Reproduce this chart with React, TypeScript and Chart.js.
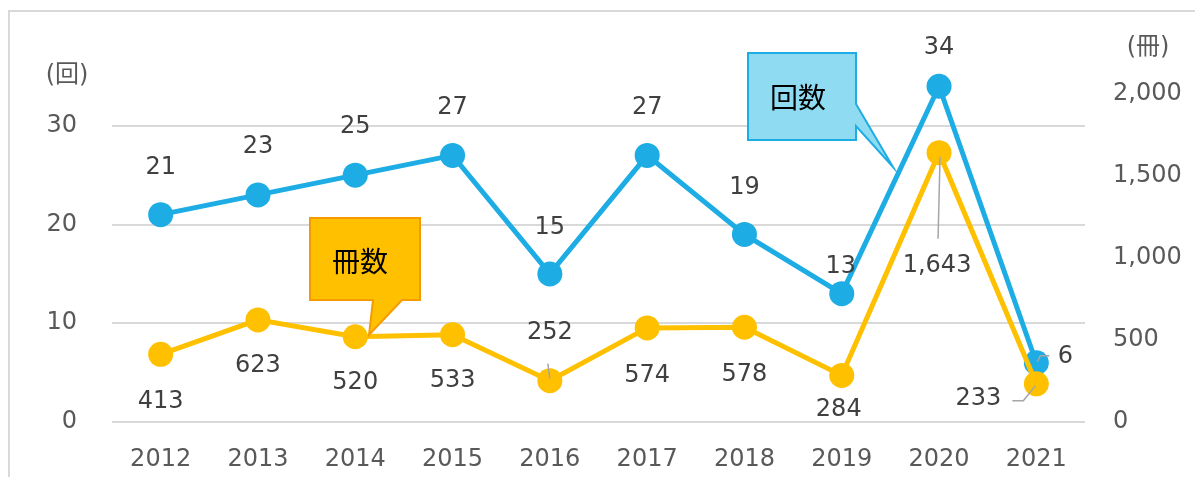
import React, { useEffect, useRef } from "react";
import { Chart, registerables } from "chart.js";

Chart.register(...registerables);

// ---- data ----
const years = ["2012", "2013", "2014", "2015", "2016", "2017", "2018", "2019", "2020", "2021"];
const kaisu = [21, 23, 25, 27, 15, 27, 19, 13, 34, 6]; // 回数 (left axis)
const satsusu = [413, 623, 520, 533, 252, 574, 578, 284, 1643, 233]; // 冊数 (right axis)
const leftTicks = [0, 10, 20, 30];
const rightTicks = [0, 500, 1000, 1500, 2000];
const leftTitle = "(回)";
const rightTitle = "(冊)";
const calloutSatsu = "冊数";
const calloutKai = "回数";

// ---- styles ----
const BLUE = "#1DADE4";
const ORANGE = "#FFC000";
const LABEL_COLOR = "#404040";
const AXIS_COLOR = "#595959";
const GRID = "#d9d9d9";
const FONT = "'DejaVu Sans', 'Noto Sans CJK JP', sans-serif";
const CJK = "'Noto Sans CJK JP', sans-serif";
const FS = 24;

// label offsets relative to points [dx, dy], optional leader polyline (relative)
const blueLabelOffsets: number[][] = [
  [0, -47], [0, -48], [0, -48], [0, -48], [0, -46], [0, -48], [0, -47], [-1, -27], [0, -38], [29, -6],
];
const orangeLabelOffsets: number[][] = [
  [0, 47], [0, 46], [0, 46], [0, 46], [0, -48], [0, 48], [0, 48], [-3, 34], [-2, 113], [-58, 15],
];
const blueLeaders: (number[][] | null)[] = [null, null, null, null, null, null, null, null, null, [[1, -1], [4, -7], [13, -7]]];
const orangeLeaders: (number[][] | null)[] = [
  null, null, null, null, [[-2, -17], [0, -2]], null, null, null, [[-1, 86], [1, 4]], [[-24, 17], [-13, 17], [-1, 2]],
];

const fmt = (v: number) => v.toLocaleString("en-US");

const decorPlugin = {
  id: "decor",
  beforeDraw(chart: any) {
    const { ctx, width, height } = chart;
    ctx.save();
    ctx.fillStyle = "#d9d9d9";
    ctx.fillRect(0, 2, width, 2);
    ctx.fillRect(0, 2, 2, height);
    ctx.restore();
  },
  afterDatasetsDraw(chart: any) {
    const { ctx } = chart;
    ctx.save();
    const sets = [
      { idx: 0, values: kaisu, offs: blueLabelOffsets, leaders: blueLeaders },
      { idx: 1, values: satsusu, offs: orangeLabelOffsets, leaders: orangeLeaders },
    ];
    for (const s of sets) {
      const meta = chart.getDatasetMeta(s.idx);
      meta.data.forEach((pt: any, i: number) => {
        const ld = s.leaders[i];
        if (ld) {
          ctx.strokeStyle = "#a6a6a6";
          ctx.lineWidth = 1.5;
          ctx.beginPath();
          ld.forEach((p, k) => {
            if (k === 0) ctx.moveTo(pt.x + p[0], pt.y + p[1]);
            else ctx.lineTo(pt.x + p[0], pt.y + p[1]);
          });
          ctx.stroke();
        }
      });
    }
    for (const s of sets) {
      const meta = chart.getDatasetMeta(s.idx);
      meta.data.forEach((pt: any, i: number) => {
        const o = s.offs[i];
        ctx.font = `${FS}px ${FONT}`;
        ctx.fillStyle = LABEL_COLOR;
        ctx.textAlign = "center";
        ctx.textBaseline = "middle";
        ctx.fillText(fmt(s.values[i]), pt.x + o[0], pt.y + o[1]);
      });
    }
    ctx.restore();
  },
  afterDraw(chart: any) {
    const { ctx } = chart;
    ctx.save();
    // axis titles
    ctx.font = `24px ${FONT}`;
    ctx.fillStyle = AXIS_COLOR;
    ctx.textAlign = "center";
    ctx.textBaseline = "middle";
    ctx.fillText(leftTitle, 59, 68);
    ctx.fillText(rightTitle, 1140, 40);

    // callout 冊数 (canvas coords = page - 8)
    ctx.lineJoin = "miter";
    ctx.beginPath();
    ctx.moveTo(302, 210);
    ctx.lineTo(412, 210);
    ctx.lineTo(412, 292);
    ctx.lineTo(394, 292);
    ctx.lineTo(361, 327);
    ctx.lineTo(365, 292);
    ctx.lineTo(302, 292);
    ctx.closePath();
    ctx.fillStyle = "#FFC000";
    ctx.fill();
    ctx.strokeStyle = "#F59B00";
    ctx.lineWidth = 2;
    ctx.stroke();
    ctx.fillStyle = "#000";
    ctx.font = `28px ${CJK}`;
    ctx.fillText(calloutSatsu, 352, 253);

    // callout 回数
    ctx.beginPath();
    ctx.moveTo(740, 45);
    ctx.lineTo(848, 45);
    ctx.lineTo(848, 96);
    ctx.lineTo(885, 159);
    ctx.lineTo(848, 118);
    ctx.lineTo(848, 132);
    ctx.lineTo(740, 132);
    ctx.closePath();
    ctx.fillStyle = "#8FDBF1";
    ctx.fill();
    ctx.strokeStyle = BLUE;
    ctx.lineWidth = 2;
    ctx.stroke();
    ctx.fillStyle = "#000";
    ctx.font = `28px ${CJK}`;
    ctx.fillText(calloutKai, 790, 89);
    ctx.restore();
  },
};

const noPad = (s: any) => {
  s.paddingTop = 0;
  s.paddingBottom = 0;
};

export default function App() {
  const ref = useRef<HTMLCanvasElement | null>(null);
  useEffect(() => {
    if (!ref.current) return;
    const chart = new Chart(ref.current, {
      type: "line",
      data: {
        labels: years,
        datasets: [
          {
            label: "回数",
            data: kaisu,
            yAxisID: "y",
            borderColor: BLUE,
            backgroundColor: BLUE,
            borderWidth: 5,
            pointRadius: 12.5,
            pointBackgroundColor: BLUE,
            pointBorderWidth: 0,
            tension: 0,
            clip: false,
            order: 2,
          },
          {
            label: "冊数",
            data: satsusu,
            yAxisID: "y1",
            borderColor: ORANGE,
            backgroundColor: ORANGE,
            borderWidth: 5,
            pointRadius: 12.5,
            pointBackgroundColor: ORANGE,
            pointBorderWidth: 0,
            tension: 0,
            clip: false,
            order: 1,
          },
        ],
      },
      options: {
        animation: false,
        responsive: false,
        layout: { autoPadding: false, padding: { top: 19, bottom: 0, left: 0, right: 0 } },
        plugins: { legend: { display: false }, tooltip: { enabled: false } },
        scales: {
          x: {
            offset: true,
            grid: { display: false, drawTicks: false },
            border: { display: false },
            ticks: { color: AXIS_COLOR, font: { family: FONT, size: FS }, padding: 23, maxRotation: 0 },
            afterFit: (s: any) => { s.height = 55; s.paddingLeft = 0; s.paddingRight = 0; },
          },
          y: {
            position: "left",
            min: 0,
            max: 40,
            afterBuildTicks: (s: any) => { s.ticks = leftTicks.map((v) => ({ value: v })); },
            grid: { color: GRID, lineWidth: 2, drawTicks: false },
            border: { display: false },
            ticks: { color: AXIS_COLOR, font: { family: FONT, size: FS }, padding: 35 },
            afterFit: (s: any) => { s.width = 104; noPad(s); },
          },
          y1: {
            position: "right",
            min: 0,
            max: 2410,
            afterBuildTicks: (s: any) => { s.ticks = rightTicks.map((v) => ({ value: v })); },
            grid: { display: false, drawTicks: false },
            border: { display: false },
            ticks: {
              color: AXIS_COLOR,
              font: { family: FONT, size: FS },
              padding: 28,
              callback: (v: any) => fmt(Number(v)),
            },
            afterFit: (s: any) => { s.width = 118; noPad(s); },
          },
        },
      },
      plugins: [decorPlugin],
    });
    return () => chart.destroy();
  }, []);
  return (
    <div style={{ width: 1195, height: 469 }}>
      <canvas ref={ref} width={1195} height={469} style={{ display: "block", width: 1195, height: 469 }} />
    </div>
  );
}
